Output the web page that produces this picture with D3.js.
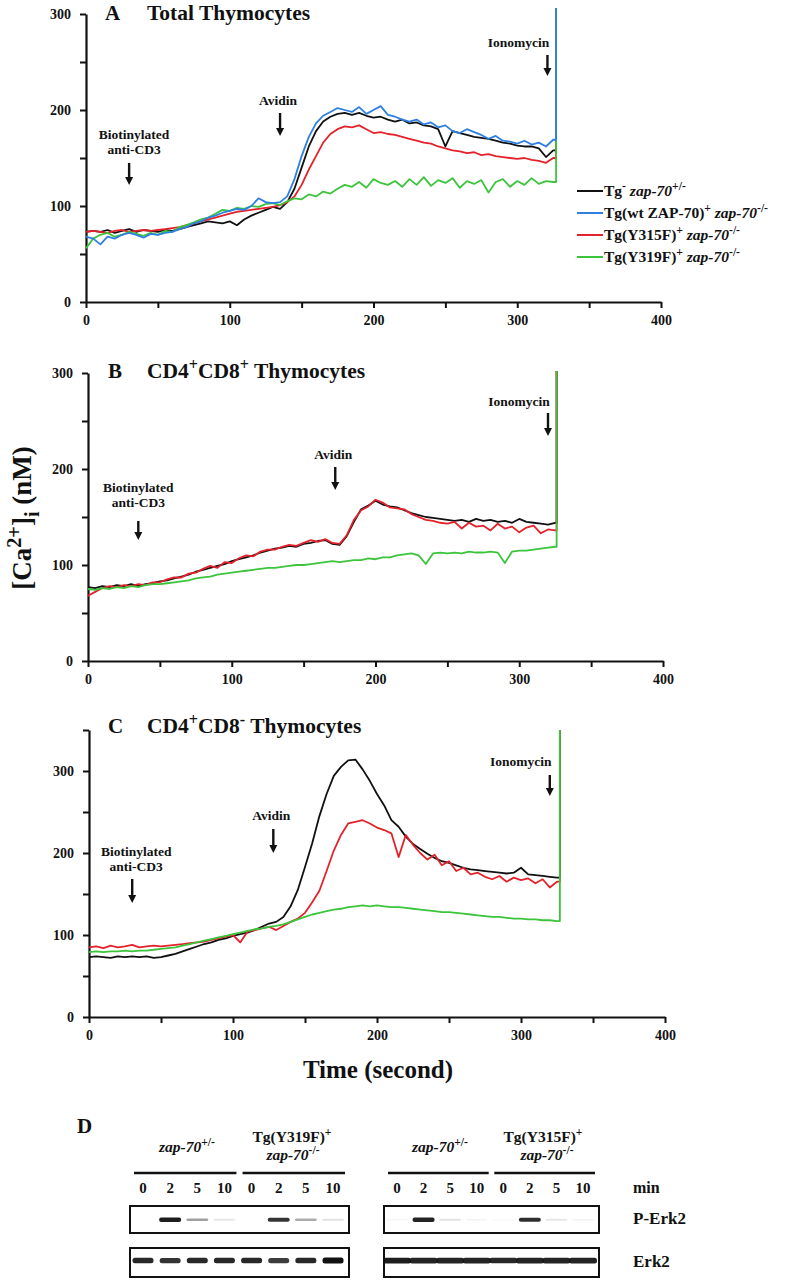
<!DOCTYPE html>
<html><head><meta charset="utf-8">
<script src="https://cdn.jsdelivr.net/npm/d3@7"></script>
<style>
body{margin:0;background:#fff;}
svg text{font-family:"Liberation Serif","Times New Roman",serif;font-weight:bold;fill:#111;}
</style></head><body>
<svg id="chart" width="790" height="1280"></svg>
<script>
// ---------------- DATA ----------------
const times = [0,5,10,15,20,25,30,35,40,45,50,55,60,65,70,75,80,85,90,95,100,105,110,115,120,125,130,135,140,145,150,155,160,165,170,175,180,185,190,195,200,205,210,215,220,225,230,235,240,245,250,255,260,265,270,275,280,285,290,295,300,305,310,315,320,325];
const spikeTime = [327, 326, 327];           // ionomycin jump (A, B, C)
const spikeValue = [306, 302, 350];

const seriesLabels = ["Tg- zap-70+/-", "Tg(wt ZAP-70)+ zap-70-/-", "Tg(Y315F)+ zap-70-/-", "Tg(Y319F)+ zap-70-/-"];
const seriesColors = ["#111111", "#2f80e0", "#e3222b", "#3cc43c"];

// Panel A: Total thymocytes
const A_black = [73,74,73,75,72,74,76,73,75,74,73,75,74, 76,78,80,82,84, 83,82,84,80,86, 90,93,96,99,97, 104,118,140,162,178,188,193,196, 197,195,197,194,192,193,190,188,190, 186,187,184,183,180,162,178,176,174,172, 171,170,168,166,165,163,162,162,160,151,158];
const A_blue  = [68,66,60,68,66,70,72,70,67,71,70,72,73, 76,78,82,84,88, 90,93,95,97,96, 100,108,104,103,104, 110,128,152,172,186,194,198,202, 200,198,203,196,200,204,195,193,190, 188,190,185,187,182,184,178,176,180,177, 174,170,173,168,167,165,168,164,166,162,169];
const A_red   = [73,74,73,72,74,75,73,74,75,74,75,76,77, 78,80,82,84,86, 88,90,92,94,95, 96,97,98,99,101, 104,110,122,138,152,166,175,180, 183,182,184,180,176,177,175,174,172, 170,168,166,165,162,160,158,157,155,156, 153,154,152,151,150,149,150,148,147,145,150];
const A_green = [56,66,70,72,68,70,73,71,69,72,70,74,73, 78,80,83,86,88, 92,96,95,98,97, 100,99,102,103,101, 105,108,107,112,110,115,113,118, 122,120,125,119,128,124,122,126,120, 128,122,130,121,127,124,129,119,126,123, 127,114,125,128,120,126,122,129,123,126,125];

// Panel B: CD4+CD8+ thymocytes
const B_black = [77,76,78,77,79,78,80,78,80,81,83,84,86, 88,90,93,95,97, 99,101,104,106,108, 110,113,115,117,118, 120,119,122,123,125,126,122,121, 130,145,158,162,167,163,161,160,157, 154,152,150,149,148,147,146,147,145,148, 146,147,145,146,144,148,145,144,143,142,144];
const B_red   = [68,72,76,78,77,79,78,80,79,82,82,85,87, 87,91,92,96,99, 97,103,102,107,110, 109,114,116,116,119, 121,120,123,126,124,127,123,122, 131,147,157,161,168,165,160,159,158, 153,150,147,146,144,143,145,138,144,140, 141,136,143,138,140,134,139,141,133,137,136];
const B_green = [75,74,76,75,77,76,78,77,79,80,80,81,82, 83,84,86,87,88, 90,91,92,93,94, 95,96,97,97,98, 99,100,100,101,102,103,104,103, 104,105,105,107,106,108,108,110,111, 112,110,101,112,113,112,113,112,114,113, 113,114,113,102,114,115,115,116,117,118,119];

// Panel C: CD4+CD8- thymocytes
const C_black = [73,74,73,72,74,73,74,73,74,72,73,75,77, 80,83,86,89,91, 94,96,99,101,103, 106,110,114,116,122, 135,155,183,212,245,272,294,305, 313,314,302,288,272,258,240,232,220, 211,205,199,194,190,188,185,182,180,179, 178,177,176,175,176,182,174,173,172,171,170];
const C_red   = [85,86,84,87,85,86,88,85,86,87,86,87,88, 89,90,91,92,94, 96,98,100,91,104, 106,108,110,106,111, 116,120,127,140,154,178,203,222, 236,238,240,236,231,228,224,195,222, 210,200,192,198,185,190,178,182,174,176, 171,168,172,165,170,167,169,163,168,158,165];
const C_green = [79,80,79,80,80,81,80,81,81,82,83,84,85, 87,89,91,93,95, 97,99,101,103,105, 107,108,110,111,113, 116,119,122,125,127,129,131,132, 134,135,136,135,136,135,134,134,133, 132,131,130,129,128,128,127,126,125,124, 123,122,122,121,120,120,119,119,118,118,117];

const xTicks = [0,50,100,150,200,250,300,350,400];
const yTicksAB = [0,50,100,150,200,250,300];
const yTicksC = [0,50,100,150,200,250,300,350];
const eventNames = ["Biotinylated|anti-CD3", "Avidin", "Ionomycin"];
const eventTimesA = [30,135,321];
const eventTimesB = [35,172,320];
const eventTimesC = [30,128,320];

// Panel D: western blot
const laneMinutes = ["0","2","5","10","0","2","5","10"];
const pErk2Left  = [0.02,0.95,0.40,0.10,0.02,0.85,0.35,0.12];
const erk2Left   = [0.90,0.85,0.90,0.90,0.90,0.82,0.90,1.00];
const pErk2Right = [0.04,0.92,0.12,0.05,0.03,0.88,0.10,0.06];
const erk2Right  = [0.95,0.92,0.92,0.92,0.90,0.92,0.92,0.92];

// ---------------- DRAW ----------------
const svg = d3.select("#chart");

function rich(g, x, y, size, parts, anchor){
  const t = g.append("text").attr("x",x).attr("y",y).attr("font-size",size).attr("text-anchor",anchor||"start");
  let shift = 0;
  parts.forEach(p=>{
    const s = t.append("tspan").text(p.t);
    const target = p.sup ? -size*0.38 : (p.sub ? size*0.28 : 0);
    s.attr("dy", target - shift); shift = target;
    if(p.sup||p.sub) s.attr("font-size", size*0.75);
    if(p.it) s.attr("font-style","italic");
  });
  return t;
}

function arrow(g, x, y1, y2){
  g.append("line").attr("x1",x).attr("x2",x).attr("y1",y1).attr("y2",y2-6)
    .attr("stroke","#111").attr("stroke-width",2.4);
  g.append("path").attr("d",`M${x-4},${y2-8}L${x+4},${y2-8}L${x},${y2}Z`).attr("fill","#111");
}

function panel(cfg){
  const g = svg.append("g");
  const x = d3.scaleLinear().domain([0,400]).range(cfg.xr);
  const y = d3.scaleLinear().domain([0,cfg.ymax]).range(cfg.yr);
  const ya = g.append("g").attr("transform",`translate(${cfg.xr[0]},0)`)
    .call(d3.axisLeft(y).tickValues(cfg.yTicks).tickFormat(d=>d%100===0?d:"").tickSize(6).tickSizeOuter(0).tickPadding(9));
  const xa = g.append("g").attr("transform",`translate(0,${cfg.yr[0]})`)
    .call(d3.axisBottom(x).tickValues(xTicks).tickFormat(d=>d%100===0?d:"").tickSize(6).tickSizeOuter(0).tickPadding(7));
  [ya,xa].forEach(a=>{
    a.select(".domain").attr("stroke","#111").attr("stroke-width",2.2);
    a.selectAll(".tick line").attr("stroke","#111").attr("stroke-width",2);
    a.selectAll(".tick text").attr("font-size",14).attr("font-family","'Liberation Serif',serif").attr("font-weight","bold").attr("fill","#111");
  });
  const line = d3.line().x(d=>x(d[0])).y(d=>y(d[1]));
  cfg.series.forEach((s,i)=>{
    const pts = times.map((t,j)=>[t,s.vals[j]]);
    pts.push([cfg.spikeT, s.vals[s.vals.length-1]]);
    pts.push([cfg.spikeT, cfg.spikeV]);
    g.append("path").datum(pts).attr("d",line).attr("fill","none")
      .attr("stroke",s.color).attr("stroke-width",1.8).attr("stroke-linejoin","round");
  });
  g.append("text").attr("x",cfg.titleX).attr("y",cfg.titleY).attr("font-size",21).text(cfg.letter);
  rich(g, 147, cfg.titleY, 21.5, cfg.title);
  cfg.events.forEach((t,i)=>{
    const ax = x(t), ev = cfg.ev[i];
    const lines = eventNames[i].split("|");
    lines.forEach((l,k)=>{
      g.append("text").attr("x",ax+ev.dx).attr("y",ev.ty+k*14.5).attr("font-size",13.5)
        .attr("text-anchor","middle").text(l);
    });
    arrow(g, ax, ev.a1, ev.a2);
  });
}

panel({letter:"A", titleX:105, titleY:20, xr:[86,661], yr:[302,14], ymax:300, yTicks:yTicksAB,
  title:[{t:"Total Thymocytes"}],
  series:[{vals:A_black,color:seriesColors[0]},{vals:A_red,color:seriesColors[2]},{vals:A_green,color:seriesColors[3]},{vals:A_blue,color:seriesColors[1]}],
  spikeT:spikeTime[0], spikeV:spikeValue[0], events:eventTimesA,
  ev:[{dx:5,ty:139,a1:163,a2:185},{dx:-2,ty:105,a1:113,a2:136},{dx:-29,ty:47,a1:55,a2:76}]});

panel({letter:"B", titleX:108, titleY:378, xr:[88,663], yr:[661,373], ymax:300, yTicks:yTicksAB,
  title:[{t:"CD4"},{t:"+",sup:1},{t:"CD8"},{t:"+",sup:1},{t:" Thymocytes"}],
  series:[{vals:B_black,color:seriesColors[0]},{vals:B_red,color:seriesColors[2]},{vals:B_green,color:seriesColors[3]}],
  spikeT:spikeTime[1], spikeV:spikeValue[1], events:eventTimesB,
  ev:[{dx:0,ty:492,a1:521,a2:540},{dx:-2,ty:459,a1:467,a2:490},{dx:-29,ty:406,a1:413,a2:436}]});

panel({letter:"C", titleX:108, titleY:733, xr:[89,665], yr:[1017,730], ymax:350, yTicks:yTicksC,
  title:[{t:"CD4"},{t:"+",sup:1},{t:"CD8"},{t:"-",sup:1},{t:" Thymocytes"}],
  series:[{vals:C_black,color:seriesColors[0]},{vals:C_red,color:seriesColors[2]},{vals:C_green,color:seriesColors[3]}],
  spikeT:spikeTime[2], spikeV:spikeValue[2], events:eventTimesC,
  ev:[{dx:4,ty:856,a1:879,a2:903},{dx:-2,ty:820,a1:829,a2:853},{dx:-29,ty:766,a1:775,a2:796}]});

// legend
const leg = svg.append("g");
const legParts = [
  [{t:"Tg"},{t:"-",sup:1},{t:" "},{t:"zap-70",it:1},{t:"+/-",sup:1}],
  [{t:"Tg(wt ZAP-70)"},{t:"+",sup:1},{t:" "},{t:"zap-70",it:1},{t:"-/-",sup:1}],
  [{t:"Tg(Y315F)"},{t:"+",sup:1},{t:" "},{t:"zap-70",it:1},{t:"-/-",sup:1}],
  [{t:"Tg(Y319F)"},{t:"+",sup:1},{t:" "},{t:"zap-70",it:1},{t:"-/-",sup:1}]
];
seriesLabels.forEach((lab,i)=>{
  const yy = 191 + i*22;
  leg.append("line").attr("x1",577).attr("x2",603).attr("y1",yy).attr("y2",yy)
    .attr("stroke",seriesColors[i]).attr("stroke-width",2);
  rich(leg, 604, yy+5, 15.5, legParts[i]);
});

// axis titles
rich(svg.append("g").attr("transform","translate(31,518) rotate(-90)"), 0, 0, 27,
  [{t:"[Ca"},{t:"2+",sup:1},{t:"]"},{t:"i",sub:1},{t:" (nM)"}], "middle");
svg.append("text").attr("x",378).attr("y",1078).attr("font-size",25).attr("text-anchor","middle").text("Time (second)");

// ---------------- PANEL D ----------------
const gd = svg.append("g");
gd.append("text").attr("x",77).attr("y",1133).attr("font-size",21).text("D");

function blot(cfg){
  const x = d3.scalePoint().domain(d3.range(laneMinutes.length)).range(cfg.lanes);
  const xl = x(0)-13, xr = x(laneMinutes.length-1)+16;
  cfg.groups.forEach((gr,k)=>{
    const a = x(k*4)-9, b = x(k*4+3)+12;
    gd.append("line").attr("x1",a).attr("x2",b).attr("y1",1173).attr("y2",1173).attr("stroke","#111").attr("stroke-width",2.4);
    gr.forEach(ln=>{ rich(gd, ln.x, ln.y, 15.5, ln.parts, "middle"); });
  });
  laneMinutes.forEach((m,i)=>{
    gd.append("text").attr("x",x(i)).attr("y",1193).attr("font-size",15).attr("text-anchor","middle").text(m);
  });
  [[1206,1233],[1248,1277]].forEach(r=>{
    gd.append("rect").attr("x",xl).attr("y",r[0]).attr("width",xr-xl).attr("height",r[1]-r[0])
      .attr("fill","#fff").attr("stroke","#111").attr("stroke-width",2);
  });
  cfg.p.forEach((v,i)=>{
    if(v<0.03) return;
    gd.append("rect").attr("x",x(i)-11).attr("y",1219-1.5*v).attr("width",22).attr("height",1.5+3*v)
      .attr("rx",2).attr("fill","#111").attr("opacity",Math.min(1,v));
  });
  cfg.e.forEach((v,i)=>{
    gd.append("rect").attr("x",x(i)-cfg.bw/2).attr("y",1260-2.5*v).attr("width",cfg.bw).attr("height",2+4*v)
      .attr("rx",2.5).attr("fill","#111").attr("opacity",v);
  });
}
blot({lanes:[143,333], p:pErk2Left, e:erk2Left, bw:21, groups:[
  [{x:187,y:1152,parts:[{t:"zap-70",it:1},{t:"+/-",sup:1}]}],
  [{x:292,y:1142,parts:[{t:"Tg(Y319F)"},{t:"+",sup:1}]},{x:293,y:1160,parts:[{t:"zap-70",it:1},{t:"-/-",sup:1}]}]
]});
blot({lanes:[397,583], p:pErk2Right, e:erk2Right, bw:28, groups:[
  [{x:440,y:1152,parts:[{t:"zap-70",it:1},{t:"+/-",sup:1}]}],
  [{x:543,y:1142,parts:[{t:"Tg(Y315F)"},{t:"+",sup:1}]},{x:547,y:1160,parts:[{t:"zap-70",it:1},{t:"-/-",sup:1}]}]
]});
gd.append("text").attr("x",633).attr("y",1193).attr("font-size",16).text("min");
gd.append("text").attr("x",633).attr("y",1224).attr("font-size",17).text("P-Erk2");
gd.append("text").attr("x",633).attr("y",1267).attr("font-size",17).text("Erk2");
</script>
</body></html>
